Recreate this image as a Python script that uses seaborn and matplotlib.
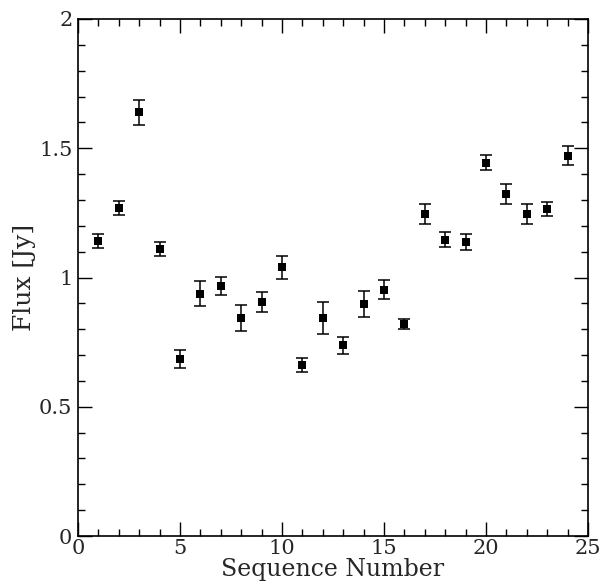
import matplotlib
matplotlib.use("Agg")
import matplotlib.pyplot as plt
import seaborn as sns
import pandas as pd
from matplotlib.ticker import MultipleLocator

seq = [1, 2, 3, 4, 5, 6, 7, 8, 9, 10, 11, 12, 13, 14, 15, 16, 17, 18, 19, 20, 21, 22, 23, 24]
flux = [1.142, 1.269, 1.639, 1.110, 0.686, 0.938, 0.967, 0.844, 0.905, 1.039, 0.662, 0.843,
        0.737, 0.896, 0.953, 0.819, 1.247, 1.147, 1.137, 1.444, 1.323, 1.246, 1.265, 1.471]
err = [0.027, 0.027, 0.048, 0.028, 0.035, 0.050, 0.034, 0.050, 0.039, 0.044, 0.026, 0.063,
       0.032, 0.050, 0.036, 0.020, 0.039, 0.029, 0.030, 0.030, 0.039, 0.038, 0.028, 0.037]
xticks = [0, 5, 10, 15, 20, 25]
xtick_labels = ["0", "5", "10", "15", "20", "25"]
yticks = [0, 0.5, 1, 1.5, 2]
ytick_labels = ["0", "0.5", "1", "1.5", "2"]

df = pd.DataFrame({"seq": seq, "flux": flux, "err": err})

sns.set_theme(style="ticks")
plt.rcParams["font.family"] = ["DejaVu Serif"]

fig = plt.figure(figsize=(6.01, 5.88), dpi=100)
ax = fig.add_axes([0.1298, 0.0884, 0.8486, 0.8793])

ax.errorbar(df["seq"], df["flux"], yerr=df["err"], fmt="none", ecolor="black",
            elinewidth=1.1, capsize=4.5, capthick=1.1)
sns.scatterplot(data=df, x="seq", y="flux", marker="s", color="black", s=36,
                edgecolor="black", linewidth=0, ax=ax, zorder=3)

ax.set_xlim(0, 25)
ax.set_ylim(0, 2)
ax.xaxis.set_minor_locator(MultipleLocator(1))
ax.yaxis.set_minor_locator(MultipleLocator(0.1))
ax.set_xticks(xticks)
ax.set_xticklabels(xtick_labels)
ax.set_yticks(yticks)
ax.set_yticklabels(ytick_labels)

ax.tick_params(which="both", direction="in", top=True, right=True, color="black",
               labelsize=15, width=1.0)
ax.tick_params(which="major", length=10)
ax.tick_params(axis="x", which="major", pad=2)
ax.tick_params(axis="y", which="major", pad=4)
ax.tick_params(which="minor", length=5)
for s in ax.spines.values():
    s.set_linewidth(1.2)
    s.set_color("black")

ax.set_xlabel("Sequence Number", fontsize=17, labelpad=0)
ax.set_ylabel("Flux [Jy]", fontsize=18, labelpad=2)

fig.savefig("out.png", dpi=100)
